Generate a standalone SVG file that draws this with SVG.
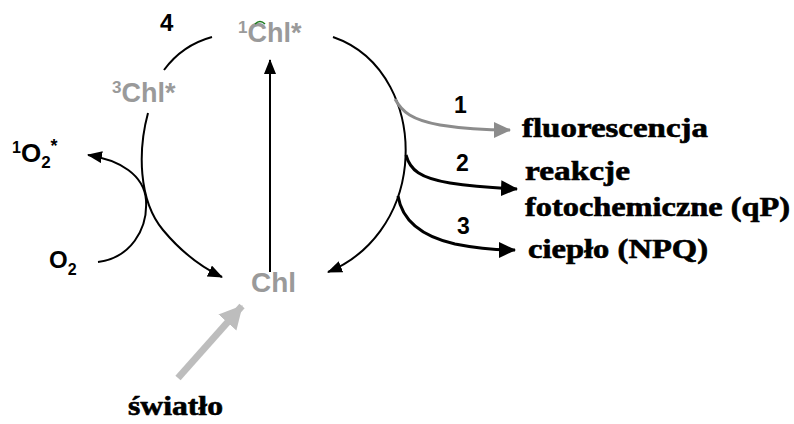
<svg xmlns="http://www.w3.org/2000/svg" width="794" height="424" viewBox="0 0 794 424">
  <style>
    .sans { font-family: "Liberation Sans", Arial, sans-serif; font-weight: bold; }
    .serif { font-family: "Liberation Serif", "Times New Roman", serif; font-weight: bold; fill: #000; stroke: #000; stroke-width: 0.6; font-size: 27px; }
    .grey { fill: #9a9a9a; }
    .line { fill: none; stroke: #000; stroke-width: 2; }
    .thick { fill: none; stroke: #000; stroke-width: 3; }
  </style>
  <defs>
    <marker id="ah" markerUnits="userSpaceOnUse" markerWidth="16" markerHeight="12" refX="14" refY="6" orient="auto">
      <path d="M0,0 L15,6 L0,12 Z" fill="#000"/>
    </marker>
    <marker id="ahBig" markerUnits="userSpaceOnUse" markerWidth="18" markerHeight="16" refX="16" refY="8" orient="auto">
      <path d="M0,0 L17,8 L0,16 Z" fill="#000"/>
    </marker>
    <marker id="ahGrey" markerUnits="userSpaceOnUse" markerWidth="18" markerHeight="16" refX="16" refY="8" orient="auto">
      <path d="M0,0 L17,8 L0,16 Z" fill="#8c8c8c"/>
    </marker>
    <marker id="ahLight" markerUnits="userSpaceOnUse" markerWidth="26" markerHeight="26" refX="22" refY="12" orient="auto">
      <path d="M0,0 L23,12 L0,24 Z" fill="#bdbdbd"/>
    </marker>
  </defs>
  <rect width="794" height="424" fill="#fff"/>

  <g id="connectors">
    <!-- excitation -->
    <path class="line" d="M270,272 L270,60" marker-end="url(#ah)"/>
    <!-- intersystem crossing -->
    <path class="line" d="M212,37 C190,43 175,55 164,70"/>
    <!-- triplet decay back to ground state -->
    <path class="line" d="M148,113 C138,150 138,200 163,230 C183,254 203,268 222,277" marker-end="url(#ah)"/>
    <!-- oxygen activation -->
    <path class="line" d="M98,262 C130,258 148,230 146,200 C144,175 120,160 88,155" marker-end="url(#ah)"/>
    <!-- singlet decay back to ground state -->
    <path class="line" d="M333,37 C385,55 410,110 405,165 C400,215 370,255 328,272" marker-end="url(#ah)"/>
    <!-- de-excitation pathways -->
    <path d="M395,99 C402,112 412,120 440,125 C465,129 485,130 510,130" fill="none" stroke="#8c8c8c" stroke-width="3" marker-end="url(#ahGrey)"/>
    <path class="thick" d="M406,155 C410,170 420,178 450,183 C475,187 495,188 517,189" marker-end="url(#ahBig)"/>
    <path class="thick" d="M398,196 C402,220 420,236 455,244 C480,249 498,250 515,250" marker-end="url(#ahBig)"/>
    <!-- light input -->
    <path d="M178,378 L242,306" fill="none" stroke="#bdbdbd" stroke-width="7" marker-end="url(#ahLight)"/>
  </g>

  <g id="chl-singlet">
    <text class="sans grey" x="238" y="42" font-size="27"><tspan font-size="17" dy="-9">1</tspan><tspan dy="9">Chl*</tspan></text>
    <path d="M255,24 Q260,19 265,24" fill="none" stroke="#1a7a1a" stroke-width="1.5"/>
  </g>
  <g id="chl-triplet">
    <text class="sans grey" x="112" y="102" font-size="27"><tspan font-size="17" dy="-9">3</tspan><tspan dy="9">Chl*</tspan></text>
  </g>
  <g id="chl-ground">
    <text class="sans grey" x="251" y="292" font-size="28">Chl</text>
  </g>
  <g id="singlet-oxygen">
    <text class="sans" x="12" y="162" font-size="26"><tspan font-size="16" dy="-9">1</tspan><tspan dy="9">O</tspan><tspan font-size="17" dy="6">2</tspan><tspan font-size="18" dy="-16">*</tspan></text>
  </g>
  <g id="oxygen">
    <text class="sans" x="49" y="268" font-size="24">O<tspan font-size="16" dy="7">2</tspan></text>
  </g>
  <g id="labels-numbers">
    <text class="sans" x="160" y="31" font-size="24">4</text>
    <text class="sans" x="454" y="113" font-size="23">1</text>
    <text class="sans" x="456" y="171" font-size="23">2</text>
    <text class="sans" x="457" y="234" font-size="23">3</text>
  </g>
  <g id="fluorescence">
    <text class="serif" x="522" y="137" textLength="186" lengthAdjust="spacingAndGlyphs">fluorescencja</text>
  </g>
  <g id="photochemistry">
    <text class="serif" x="525" y="180" textLength="105" lengthAdjust="spacingAndGlyphs">reakcje</text>
    <text class="serif" x="525" y="216" textLength="265" lengthAdjust="spacingAndGlyphs">fotochemiczne (qP)</text>
  </g>
  <g id="heat">
    <text class="serif" x="528" y="258" textLength="180" lengthAdjust="spacingAndGlyphs">ciepło (NPQ)</text>
  </g>
  <g id="light">
    <text class="serif" x="128" y="415" textLength="95" lengthAdjust="spacingAndGlyphs">światło</text>
  </g>
</svg>
